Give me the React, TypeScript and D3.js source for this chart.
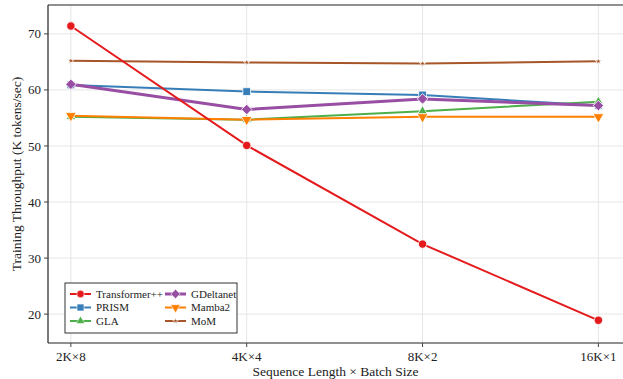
import * as d3 from 'd3';

const categories = ['2K×8', '4K×4', '8K×2', '16K×1'];
const transformerVals = [71.4, 50.1, 32.5, 18.9];
const prismVals = [60.9, 59.7, 59.1, 57.2];
const glaVals = [55.2, 54.7, 56.2, 57.9];
const gdeltanetVals = [61.0, 56.5, 58.4, 57.2];
const mamba2Vals = [55.4, 54.7, 55.2, 55.2];
const momVals = [65.2, 64.9, 64.7, 65.1];
const yTicks = [20, 30, 40, 50, 60, 70];

const series = [
  { key: 'PRISM', values: prismVals, color: '#377eb8', symbol: d3.symbolSquare, size: 60, width: 2, col: 0, row: 1, rot: 0 },
  { key: 'GLA', values: glaVals, color: '#4daf4a', symbol: d3.symbolTriangle, size: 40, width: 2, col: 0, row: 2, rot: 0 },
  { key: 'GDeltanet', values: gdeltanetVals, color: '#984ea3', symbol: d3.symbolSquare, size: 55, width: 3, col: 1, row: 0, rot: 45 },
  { key: 'Mamba2', values: mamba2Vals, color: '#ff7f00', symbol: d3.symbolTriangle, size: 50, width: 2, col: 1, row: 1, rot: 180 },
  { key: 'MoM', values: momVals, color: '#a65628', symbol: d3.symbolStar, size: 14, width: 2, col: 1, row: 2, rot: 0 },
  { key: 'Transformer++', values: transformerVals, color: '#e41a1c', symbol: d3.symbolCircle, size: 55, width: 2, col: 0, row: 0, rot: 0 },
];

const FONT = 'Times New Roman, Times, Tinos, serif';
const W = 623;
const H = 379;
const left = 48, right = 623, top = 5, bottom = 343;

const x = d3.scaleLinear().domain([-0.13, 3.14]).range([left, right]);
const y = d3.scaleLinear().domain([14.85, 75.15]).range([bottom, top]);
const line = d3
  .line<number>()
  .x((_, i) => x(i))
  .y((d) => y(d));

const App = () => (
  <svg width={W} height={H} style={{ position: 'absolute', left: 0, top: 0 }} fontFamily={FONT}>
    {/* grid */}
    <g stroke="#e6e6e6" strokeWidth={1}>
      {categories.map((c, i) => (
        <line key={c} x1={x(i)} x2={x(i)} y1={top} y2={bottom} />
      ))}
      {yTicks.map((t) => (
        <line key={t} x1={left} x2={right} y1={y(t)} y2={y(t)} />
      ))}
    </g>

    {series.map((s) => {
      const sym = d3.symbol().type(s.symbol).size(s.size)() as string;
      return (
        <g key={s.key}>
          <path d={line(s.values) as string} fill="none" stroke={s.color} strokeWidth={s.width} />
          {s.values.map((v, i) => (
            <path key={i} d={sym} transform={`translate(${x(i)},${y(v)}) rotate(${s.rot})`} fill={s.color} stroke="white" strokeWidth={0.8} />
          ))}
        </g>
      );
    })}

    {/* spines */}
    <g stroke="#222" strokeWidth={1.2}>
      <line x1={left} x2={left} y1={top} y2={bottom} />
      <line x1={left} x2={W} y1={top} y2={top} />
      <line x1={left} x2={W} y1={bottom} y2={bottom} />
    </g>

    {yTicks.map((t) => (
      <g key={t}>
        <line x1={left - 4} x2={left} y1={y(t)} y2={y(t)} stroke="#444" />
        <text x={left - 7} y={y(t)} dy="0.35em" textAnchor="end" fontSize={13} fill="#222" fontFamily={FONT}>{t}</text>
      </g>
    ))}
    {categories.map((c, i) => (
      <g key={c}>
        <line x1={x(i)} x2={x(i)} y1={bottom} y2={bottom + 4} stroke="#444" />
        <text x={x(i)} y={bottom + 18} textAnchor="middle" fontSize={13} fill="#222" fontFamily={FONT}>{c}</text>
      </g>
    ))}

    <text x={(left + right) / 2} y={376} textAnchor="middle" fontSize={13.5} fill="#222" fontFamily={FONT}>
      Sequence Length × Batch Size
    </text>
    <text transform={`translate(21,${(top + bottom) / 2}) rotate(-90)`} textAnchor="middle" fontSize={13.5} fill="#222" fontFamily={FONT}>
      Training Throughput (K tokens/sec)
    </text>

    {/* legend */}
    <g>
      <rect x={65} y={283} width={172} height={50} fill="white" stroke="#333" strokeWidth={1} />
      {series.map((s) => {
        const lx = 70 + s.col * 95;
        const ly = 294 + s.row * 13.5;
        return (
          <g key={s.key}>
            <line x1={lx} x2={lx + 21} y1={ly} y2={ly} stroke={s.color} strokeWidth={s.width} />
            <path
              d={d3.symbol().type(s.symbol).size(s.size * 0.8)() as string}
              transform={`translate(${lx + 10.5},${ly}) rotate(${s.rot})`}
              fill={s.color}
              stroke="white"
              strokeWidth={0.6}
            />
            <text x={lx + 26} y={ly} dy="0.35em" fontSize={11} fill="#222" fontFamily={FONT}>{s.key}</text>
          </g>
        );
      })}
    </g>
  </svg>
);

export default App;
